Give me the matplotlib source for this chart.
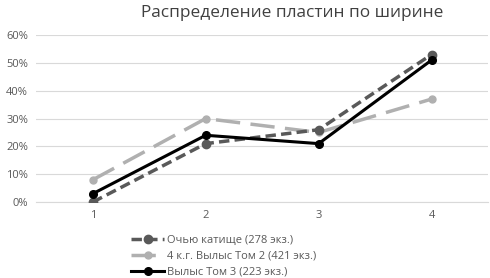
import matplotlib.pyplot as plt
from matplotlib.ticker import PercentFormatter

plt.rcParams['font.family'] = ['Open Sans', 'DejaVu Sans']

categories = [1, 2, 3, 4]
ochyu = [0, 21, 26, 53]
vylys2 = [8, 30, 25, 37]
vylys3 = [3, 24, 21, 51]
labels = ['Очью катище (278 экз.)', '4 к.г. Вылыс Том 2 (421 экз.)', 'Вылыс Том 3 (223 экз.)']

fig = plt.figure(figsize=(4.9, 2.78), dpi=100)
ax = fig.add_axes([0.074, 0.273, 0.922, 0.601])

ax.plot(categories, ochyu, color='#595959', lw=2.5, ls=(0, (3, 1.5)),
        marker='o', ms=6, label=labels[0], zorder=3)
ax.plot(categories, vylys2, color='#b0b0b0', lw=2.5, ls=(0, (7, 3)),
        marker='o', ms=5, label=labels[1], zorder=2)
ax.plot(categories, vylys3, color='black', lw=2.2,
        marker='o', ms=5.5, label=labels[2], zorder=4)

ax.set_xlim(0.5, 4.5)
ax.set_ylim(0, 60)
ax.set_yticks(range(0, 61, 10))
ax.yaxis.set_major_formatter(PercentFormatter(decimals=0))
ax.set_xticks(categories)
ax.grid(axis='y', color='#d9d9d9', lw=0.8)
ax.set_axisbelow(True)
for s in ['top', 'right', 'left']:
    ax.spines[s].set_visible(False)
ax.spines['bottom'].set_color('#d9d9d9')
ax.tick_params(length=0, labelsize=8, colors='#595959', pad=6)

fig.text(0.596, 0.955, 'Распределение пластин по ширине', ha='center', va='center',
         fontsize=12.4, color='#404040')

ax.legend(loc='upper left', bbox_to_anchor=(0.2, -0.17), frameon=False,
          fontsize=8, labelcolor='#595959', handlelength=3.0, handletextpad=0.2,
          labelspacing=0.45, borderaxespad=0)

fig.savefig('out.png', dpi=100)
